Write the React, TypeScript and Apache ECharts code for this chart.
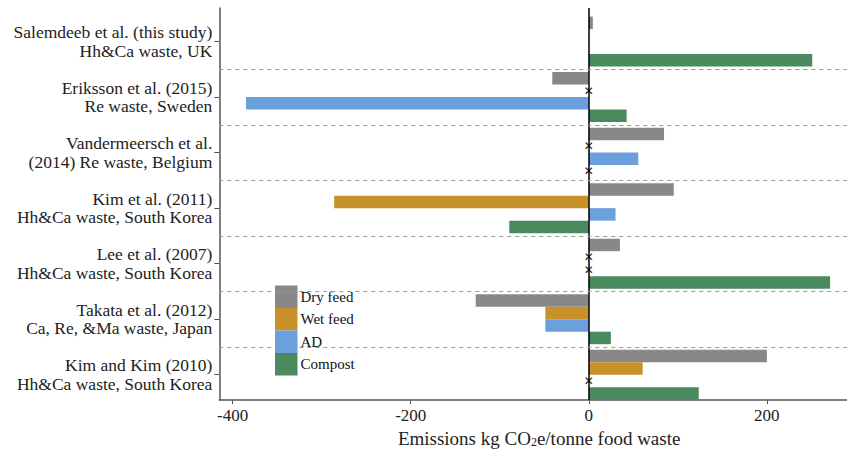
import React, { useEffect, useRef } from "react";
import * as echarts from "echarts";

const studies = [
  "Salemdeeb et al. (this study)\nHh&Ca waste, UK",
  "Eriksson et al. (2015)\nRe waste, Sweden",
  "Vandermeersch et al.\n(2014) Re waste, Belgium",
  "Kim et al. (2011)\nHh&Ca waste, South Korea",
  "Lee et al. (2007)\nHh&Ca waste, South Korea",
  "Takata et al. (2012)\nCa, Re, &Ma waste, Japan",
  "Kim and Kim (2010)\nHh&Ca waste, South Korea",
];
const seriesNames = ["Dry feed", "Wet feed", "AD", "Compost"];
// 0 = reported as zero (shown with a cross), null = not assessed
const dryFeed = [4.5, -41, 84.5, 95.4, 35, -127, 200];
const wetFeed = [null, 0, 0, -286, 0, -48.8, 60.5];
const adValues = [null, -385, 55.6, 30, 0, -48.8, 0];
const compost = [251, 42.5, 0, -89.3, 271, 24.8, 123.5];
const colors = ["#888888", "#c8912a", "#6ca0dc", "#4a8a5e"];
const xTicks = [-400, -200, 0, 200];
const separators = [1, 2, 3, 4, 5, 6];

const FONT = "Liberation Serif";
const X_MIN = -415;
const X_MAX = 290;

export default function App() {
  const ref = useRef<HTMLDivElement>(null);
  useEffect(() => {
    if (!ref.current) return;
    const chart = echarts.init(ref.current, null, { renderer: "svg" });
    const cross = {
      show: true,
      position: "inside",
      formatter: "✕",
      fontFamily: "DejaVu Sans",
      fontSize: 12,
      lineHeight: 12,
      color: "#222",
    };
    const mk = (arr: (number | null)[]) =>
      arr.map((v) => (v === 0 ? { value: 0, label: cross } : v === null ? null : v));
    const allData = [dryFeed, wetFeed, adValues, compost];
    const gridLeft = 219.3;
    const barTop = 13.8;
    const barHeight = 388.7;
    const offPoint = [[10000, 10000]];
    const option: any = {
      animation: false,
      textStyle: { fontFamily: FONT },
      grid: [
        { left: gridLeft, right: 0, top: barTop, height: barHeight },
        { left: gridLeft, right: 0, top: 8, height: 400.3 },
        { left: gridLeft, right: 0, top: barTop, height: barHeight },
      ],
      legend: {
        orient: "vertical",
        left: 275,
        top: 285.5,
        itemWidth: 22.5,
        itemHeight: 22.5,
        itemGap: 0,
        padding: 0,
        icon: "rect",
        data: seriesNames,
        textStyle: { fontFamily: FONT, fontSize: 15, color: "#111", padding: [0, 0, 0, -2] },
      },
      xAxis: [
        { type: "value", gridIndex: 0, min: X_MIN, max: X_MAX, show: false },
        {
          type: "value",
          gridIndex: 1,
          min: X_MIN,
          max: X_MAX,
          axisLine: { show: true, onZero: false, lineStyle: { color: "#555", width: 1.5 } },
          axisTick: { show: true, length: 4, customValues: xTicks, lineStyle: { color: "#555" } },
          axisLabel: {
            customValues: xTicks,
            fontFamily: FONT,
            fontSize: 17,
            color: "#222",
            margin: 7,
          },
          splitLine: { show: false },
          name: "Emissions kg CO{sub|2}e/tonne food waste",
          nameLocation: "middle",
          nameGap: 22,
          nameTextStyle: {
            fontFamily: FONT,
            fontSize: 19,
            color: "#222",
            padding: [0, 0, 0, 12],
            rich: {
              sub: { fontFamily: FONT, fontSize: 12, padding: [7, 0, 0, 0] },
            },
          },
        },
        { type: "value", gridIndex: 2, min: X_MIN, max: X_MAX, show: false },
      ],
      yAxis: [
        {
          type: "category",
          gridIndex: 0,
          data: studies,
          inverse: true,
          position: "left",
          axisLine: { show: false, onZero: false },
          axisTick: { show: true, alignWithLabel: true, length: 5, lineStyle: { color: "#555" } },
          axisLabel: {
            fontFamily: FONT,
            fontSize: 17.5,
            lineHeight: 18.5,
            color: "#222",
            margin: 7,
            align: "right",
          },
          splitLine: { show: false },
        },
        {
          type: "value",
          gridIndex: 1,
          min: 0,
          max: 1,
          axisLine: { show: true, onZero: false, lineStyle: { color: "#555", width: 1.5 } },
          axisTick: { show: false },
          axisLabel: { show: false },
          splitLine: { show: false },
        },
        { type: "value", gridIndex: 2, min: 0, max: 7, inverse: true, show: false, splitLine: { show: false } },
      ],
      series: [
        ...seriesNames.map((name, i) => ({
          name,
          type: "bar",
          xAxisIndex: 0,
          yAxisIndex: 0,
          data: mk(allData[i]),
          itemStyle: { color: colors[i] },
          barGap: "0%",
          barCategoryGap: "10%",
        })),
        {
          type: "scatter",
          xAxisIndex: 1,
          yAxisIndex: 1,
          data: offPoint,
          symbolSize: 0,
          clip: true,
          silent: true,
          markLine: {
            silent: true,
            symbol: "none",
            label: { show: false },
            lineStyle: { color: "#000", width: 1.5, type: "solid" },
            data: [{ xAxis: 0 }],
          },
        },
        {
          type: "scatter",
          xAxisIndex: 2,
          yAxisIndex: 2,
          data: offPoint,
          symbolSize: 0,
          clip: true,
          silent: true,
          markLine: {
            silent: true,
            symbol: "none",
            label: { show: false },
            lineStyle: { color: "#9a9a9a", width: 1, type: [4, 4] },
            data: separators.map((s) => ({ yAxis: s })),
          },
        },
      ],
    };
    chart.setOption(option);
    return () => chart.dispose();
  }, []);
  return (
    <div
      ref={ref}
      style={{ position: "absolute", left: 0, top: 0, width: 847, height: 453, background: "#fff" }}
    />
  );
}
